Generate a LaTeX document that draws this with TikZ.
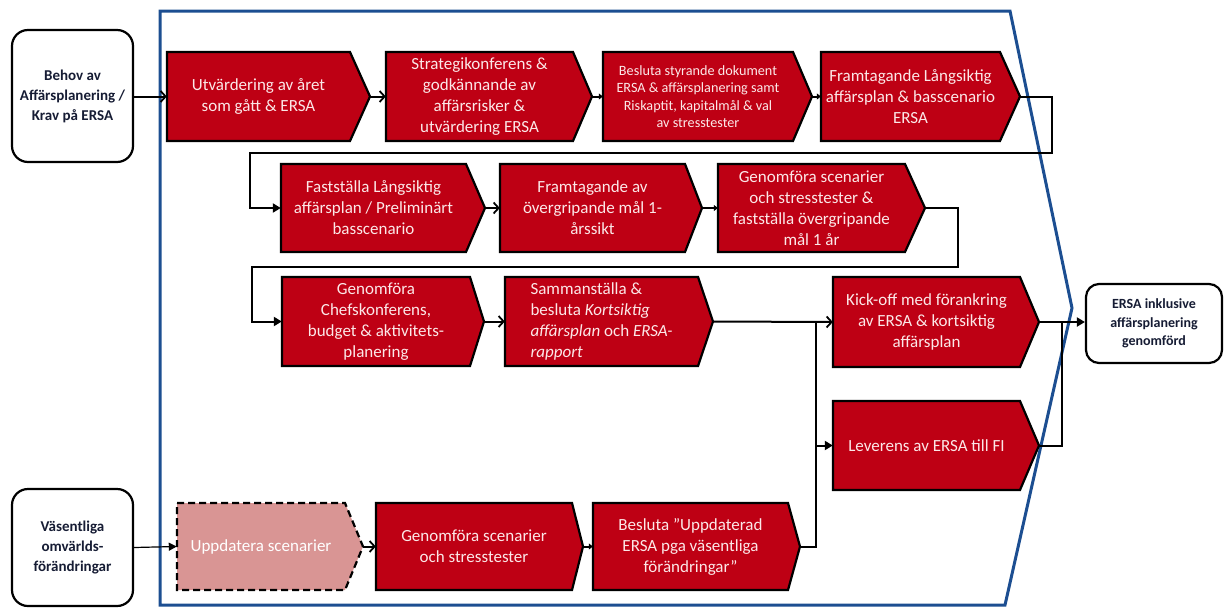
\documentclass[tikz,border=0pt]{standalone}
\usepackage{fontspec}
\setmainfont{Carlito}
\usetikzlibrary{arrows.meta}
\definecolor{boxred}{RGB}{190,0,20}
\definecolor{boxpink}{RGB}{217,149,148}
\definecolor{frameblue}{RGB}{28,78,145}
\definecolor{boxtext}{RGB}{252,232,232}
\definecolor{navytext}{RGB}{22,28,52}
\tikzset{
  redchev/.style={fill=boxred, draw=black, line width=2.2pt, line join=miter},
  pinkchev/.style={fill=boxpink, draw=black, line width=2.2pt, dashed, dash pattern=on 7pt off 4pt},
  chevtext/.style={inner sep=0pt, align=center, text=boxtext, font=\fontsize{17}{21}\selectfont},
  smalltext/.style={font=\fontsize{14.2}{17.5}\selectfont},
  endbox/.style={draw=black, line width=2.2pt, rounded corners=16pt, fill=white, align=center, text=navytext, inner sep=0pt, font=\bfseries\fontsize{15}{20}\selectfont},
  conn/.style={line width=2pt, draw=black},
  openarr/.style={conn, -{Straight Barb[length=5pt,width=11pt,line width=1.8pt]}},
  fillarr/.style={conn, -{Triangle[length=8pt,width=9pt]}},
  smallarr/.style={conn, -{Triangle[length=4pt,width=6pt]}},
}
% #1 node opts, #2 name, #3 cx, #4 cy, #5 w, #6 h, #7 tip depth, #8 path style, #9 text
\newcommand\chev[9][]{%
  \path[#8] ({#3-#5/2},{#4-#6/2}) -- ({#3+#5/2},{#4-#6/2}) -- ({#3+#5/2+#7},#4) -- ({#3+#5/2},{#4+#6/2}) -- ({#3-#5/2},{#4+#6/2}) -- cycle;
  \node[chevtext, minimum width=#5pt, minimum height=#6pt, #1] (#2) at (#3,#4) {#9};
  \coordinate (#2t) at ({#3+#5/2+#7},#4);
}
\begin{document}
\begin{tikzpicture}[x=1pt,y=-1pt]
\useasboundingbox (0,0) rectangle (1225,608);
% blue frame
\draw[frameblue, line width=3pt, line join=miter] (160,11) -- (1010,11) -- (1072,308) -- (1005,605) -- (160,605) -- cycle;

% outer boxes
\node[endbox, minimum width=121pt, minimum height=132pt] (l1) at (72.5,96) {Behov av\\Affärsplanering /\\Krav på ERSA};
\node[endbox, minimum width=121pt, minimum height=117pt] (l2) at (72.5,547.5) {Väsentliga\\omvärlds-\\förändringar};
\node[endbox, minimum width=136pt, minimum height=79pt, rounded corners=13pt, font=\bfseries\fontsize{14}{18.5}\selectfont] (r) at (1154,323.5) {ERSA inklusive\\affärsplanering\\genomförd};

% row A
\chev{a1}{258.5}{96.5}{183}{89}{20}{redchev}{Utvärdering av året\\som gått \& ERSA}
\chev{a2}{479.5}{96.5}{187}{89}{19}{redchev}{Strategikonferens \&\\godkännande av\\affärsrisker \&\\utvärdering ERSA}
\chev[smalltext]{a3}{698}{96.5}{190}{89}{19}{redchev}{Besluta styrande dokument\\ERSA \& affärsplanering samt\\Riskaptit, kapitalmål \& val\\av stresstester}
\chev{a4}{910.5}{96.5}{179}{89}{20}{redchev}{Framtagande Långsiktig\\affärsplan \& basscenario\\ERSA}
% row B
\chev{b1}{373.5}{208}{185}{88}{19}{redchev}{Fastställa Långsiktig\\affärsplan / Preliminärt\\basscenario}
\chev{b2}{592.5}{208}{185}{88}{17}{redchev}{Framtagande av\\övergripande mål 1-\\årssikt}
\chev{b3}{811.5}{208}{187}{88}{20}{redchev}{Genomföra scenarier\\och stresstester \&\\fastställa övergripande\\mål 1 år}
% row C
\chev{c1}{376}{321.5}{188}{89}{14}{redchev}{Genomföra\\Chefskonferens,\\budget \& aktivitets-\\planering}
\chev[align=left]{c2}{601.5}{321.5}{193}{89}{15}{redchev}{Sammanställa \&\\besluta \textit{Kortsiktig}\\\textit{affärsplan} och \textit{ERSA-}\\\textit{rapport}}
% column D
\chev{d1}{926.5}{322}{187}{90}{19}{redchev}{Kick-off med förankring\\av ERSA \& kortsiktig\\affärsplan}
\chev{d2}{926.5}{445.5}{187}{89}{19}{redchev}{Leverens av ERSA till FI}
% row E
\chev[text=white]{e1}{261}{546.5}{168}{87}{18}{pinkchev}{Uppdatera scenarier}
\chev{e2}{474}{546.5}{196}{87}{11}{redchev}{Genomföra scenarier\\och stresstester}
\chev{e3}{690.5}{546.5}{195}{87}{12}{redchev}{Besluta ”Uppdaterad\\ERSA pga väsentliga\\förändringar”}

% junction coordinates
\coordinate (ja) at (1052,96.5);
\coordinate (jb) at (1052,153);
\coordinate (jc) at (250,153);
\coordinate (jd) at (958,208);
\coordinate (je) at (958,267);
\coordinate (jf) at (252,267);
\coordinate (jg) at (816,322);
\coordinate (jh) at (816,546.5);
\coordinate (ji) at (1062,322);
\coordinate (jj) at (1062,445.5);

% connectors
\draw[openarr] (l1.east |- a1) -- (a1.west);
\draw[openarr] (a1t) -- (a2.west);
\draw[smallarr] (a2t) -- (a3.west);
\draw[smallarr] (a3t) -- (a4.west);
\draw[fillarr] (a4t) -- (ja) -- (jb) -- (jc) |- (b1.west);
\draw[openarr] (b1t) -- (b2.west);
\draw[smallarr] (b2t) -- (b3.west);
\draw[fillarr] (b3t) -- (jd) -- (je) -- (jf) |- (c1.west);
\draw[openarr] (c1t) -- (c2.west);
\draw[openarr] (c2t) -- (d1.west);
\draw[fillarr] (e3t) -- (jh) |- (d2.west);
\draw[conn] (jg) -- (816,445.5);
\draw[fillarr] (d1t) -- (r.west |- d1t);
\draw[conn] (d2t) -- (jj) -- (ji);
\draw[line width=1.2pt, -{Triangle[length=8pt,width=8pt]}] (l2.east) -- (e1.west);
\draw[openarr] (e1t) -- (e2.west);
\draw[smallarr] (e2t) -- (e3.west);
\end{tikzpicture}
\end{document}
